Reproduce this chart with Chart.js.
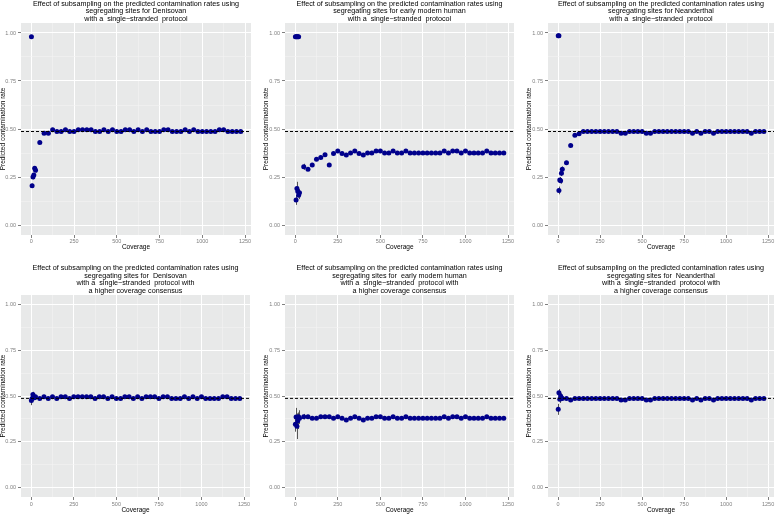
<!DOCTYPE html>
<html lang="en">
<head>
<meta charset="UTF-8">
<title>Effect of subsampling on the predicted contamination rates</title>
<script src="https://cdn.jsdelivr.net/npm/chart.js"></script>
<style>
  body { margin: 0; background: #ffffff; overflow: hidden; }
  #wrap { position: relative; width: 778px; height: 514px; }
  canvas { position: absolute; }
</style>
</head>
<body>
<div id="wrap">
  <canvas id="c0" width="260" height="257" style="left:0px;top:0px"></canvas>
  <canvas id="c1" width="260" height="257" style="left:258px;top:0px"></canvas>
  <canvas id="c2" width="260" height="257" style="left:518px;top:0px"></canvas>
  <canvas id="c3" width="260" height="257" style="left:0px;top:257px"></canvas>
  <canvas id="c4" width="260" height="257" style="left:258px;top:257px"></canvas>
  <canvas id="c5" width="260" height="257" style="left:518px;top:257px"></canvas>
</div>
<script>
// subsampled coverage
const coverage = [1, 5, 10, 15, 20, 25,
  50, 75, 100, 125, 150, 175, 200, 225, 250, 275, 300, 325,
  350, 375, 400, 425, 450, 475, 500, 525, 550, 575, 600, 625,
  650, 675, 700, 725, 750, 775, 800, 825, 850, 875, 900, 925,
  950, 975, 1000, 1025, 1050, 1075, 1100, 1125, 1150, 1175, 1200, 1225];

// predicted contamination rates, single-stranded protocol
const denisovanSS = [0.98, 0.205, 0.25, 0.26, 0.295, 0.285, 0.43, 0.478, 0.478,
  0.496, 0.487, 0.487, 0.496, 0.487, 0.487, 0.496, 0.496, 0.496, 0.496,
  0.487, 0.487, 0.496, 0.487, 0.496, 0.487, 0.487, 0.496, 0.496, 0.487,
  0.496, 0.487, 0.496, 0.487, 0.487, 0.487, 0.496, 0.496, 0.487, 0.487,
  0.487, 0.496, 0.487, 0.496, 0.487, 0.487, 0.487, 0.487, 0.487, 0.496,
  0.496, 0.487, 0.487, 0.487, 0.487];
const modernSS = [0.98, 0.13, 0.19, 0.175, 0.155, 0.168, 0.303, 0.29, 0.313,
  0.343, 0.352, 0.366, 0.313, 0.373, 0.386, 0.373, 0.364, 0.375, 0.386,
  0.373, 0.364, 0.375, 0.375, 0.386, 0.386, 0.375, 0.375, 0.386, 0.375,
  0.375, 0.386, 0.375, 0.375, 0.375, 0.375, 0.375, 0.375, 0.375, 0.375,
  0.386, 0.375, 0.386, 0.386, 0.375, 0.386, 0.375, 0.375, 0.375, 0.375,
  0.386, 0.375, 0.375, 0.375, 0.375];
const neanderthalSS = [0.985, 0.18, 0.235, 0.23, 0.27, 0.29, 0.324, 0.414, 0.467,
  0.475, 0.487, 0.487, 0.487, 0.487, 0.487, 0.487, 0.487, 0.487, 0.487,
  0.478, 0.478, 0.487, 0.487, 0.487, 0.487, 0.478, 0.478, 0.487, 0.487,
  0.487, 0.487, 0.487, 0.487, 0.487, 0.487, 0.487, 0.478, 0.487, 0.478,
  0.487, 0.487, 0.478, 0.487, 0.487, 0.487, 0.487, 0.487, 0.487, 0.487,
  0.487, 0.478, 0.487, 0.487, 0.487];

// predicted contamination rates, higher coverage consensus
const denisovanHC = [0.475, 0.487, 0.508, 0.495, 0.49, 0.496,
  0.487, 0.496,
  0.487, 0.496, 0.487, 0.496, 0.496, 0.487, 0.496, 0.496, 0.496, 0.496,
  0.496, 0.487, 0.496, 0.496, 0.487, 0.496, 0.487, 0.487, 0.496, 0.496,
  0.487, 0.496, 0.487, 0.496, 0.496, 0.496, 0.487, 0.496, 0.496, 0.487,
  0.487, 0.487, 0.496, 0.487, 0.496, 0.487, 0.496, 0.487, 0.487, 0.487,
  0.487, 0.496, 0.496, 0.487, 0.487, 0.487];
const modernHC = [0.345, 0.385, 0.335, 0.365, 0.387, 0.378,
  0.387, 0.387, 0.378, 0.378, 0.387, 0.387, 0.387, 0.378, 0.387, 0.378,
  0.369, 0.378, 0.387, 0.378, 0.369, 0.378, 0.378, 0.387, 0.387, 0.378,
  0.378, 0.387, 0.378, 0.378, 0.387, 0.378, 0.378, 0.378, 0.378, 0.378,
  0.378, 0.378, 0.378, 0.387, 0.378, 0.387, 0.387, 0.378, 0.387, 0.378,
  0.378, 0.378, 0.378, 0.387, 0.378, 0.378, 0.378, 0.378];
const neanderthalHC = [0.427, 0.518, 0.482, 0.50, 0.49, 0.487,
  0.487, 0.478, 0.487, 0.487, 0.487, 0.487, 0.487, 0.487, 0.487, 0.487,
  0.487, 0.487, 0.487, 0.478, 0.478, 0.487, 0.487, 0.487, 0.487, 0.478,
  0.478, 0.487, 0.487, 0.487, 0.487, 0.487, 0.487, 0.487, 0.487, 0.487,
  0.478, 0.487, 0.478, 0.487, 0.487, 0.478, 0.487, 0.487, 0.487, 0.487,
  0.487, 0.487, 0.487, 0.487, 0.478, 0.487, 0.487, 0.487];

// error half-widths for the first (low coverage) points, rest are too small to see
const denisovanSSErr = [0.005, 0.01, 0.012, 0.01, 0.012, 0.012, 0.008];
const modernSSErr = [0.005, 0.025, 0.035, 0.025, 0.02, 0.02, 0.016];
const neanderthalSSErr = [0.005, 0.02, 0.015, 0.015, 0.015, 0.015, 0.01];
const denisovanHCErr = [0.025, 0.02, 0.015, 0.015, 0.01, 0.01, 0.005];
const modernHCErr = [0.04, 0.05, 0.07, 0.045, 0.035, 0.03, 0.015];
const neanderthalHCErr = [0.03, 0.02, 0.02, 0.015, 0.01, 0.01, 0.005];

// replicates that hit the upper bound at very low coverage
const modernSSTopX = [5, 10, 15, 20];
const modernSSTopY = [0.98, 0.98, 0.98, 0.98];
const neanderthalSSTopX = [5];
const neanderthalSSTopY = [0.985];

const refLine = 0.487;
const xTicks = [0, 125, 250, 375, 500, 625, 750, 875, 1000, 1125, 1250];
const yTicks = [0, 0.125, 0.25, 0.375, 0.5, 0.625, 0.75, 0.875, 1];
const xMin = -60, xMax = 1285;
const yMin = -0.052, yMax = 1.052;

const firstLine = "Effect of subsampling on the predicted contamination rates using";
const panels = [
  { title: [firstLine, "segregating sites for Denisovan", "with a  single\u2212stranded  protocol"],
    values: denisovanSS, err: denisovanSSErr, topX: [], topY: [] },
  { title: [firstLine, "segregating sites for early modern human", "with a  single\u2212stranded  protocol"],
    values: modernSS, err: modernSSErr, topX: modernSSTopX, topY: modernSSTopY },
  { title: [firstLine, "segregating sites for Neanderthal", "with a  single\u2212stranded  protocol"],
    values: neanderthalSS, err: neanderthalSSErr, topX: neanderthalSSTopX, topY: neanderthalSSTopY },
  { title: [firstLine, "segregating sites for  Denisovan", "with a  single\u2212stranded  protocol with", "a higher coverage consensus"],
    values: denisovanHC, err: denisovanHCErr, topX: [], topY: [] },
  { title: [firstLine, "segregating sites for  early modern human", "with a  single\u2212stranded  protocol with", "a higher coverage consensus"],
    values: modernHC, err: modernHCErr, topX: [], topY: [] },
  { title: [firstLine, "segregating sites for  Neanderthal", "with a  single\u2212stranded  protocol with", "a higher coverage consensus"],
    values: neanderthalHC, err: neanderthalHCErr, topX: [], topY: [] }
];

// panel geometry per column / row
const plotLeft = [21, 27, 30];
const padRight = [[9, 3, 0], [10, 3, 0]];
const yTitleLeft = [0, 4.7, 8];

const FONT = "'Liberation Sans', Arial, Helvetica, sans-serif";
const isMajorX = v => Math.abs(v / 250 - Math.round(v / 250)) < 1e-9;
const isMajorY = v => Math.abs(v * 4 - Math.round(v * 4)) < 1e-9;

const panelBg = {
  id: 'panelBg',
  beforeDraw(chart) {
    const { ctx, chartArea: a } = chart;
    ctx.save();
    ctx.fillStyle = '#E8E9E9';
    ctx.fillRect(a.left, a.top, a.right - a.left, a.bottom - a.top);
    ctx.restore();
  }
};

const errorBars = {
  id: 'errorBars',
  beforeDatasetsDraw(chart) {
    const { ctx, scales: { x, y } } = chart;
    ctx.save();
    ctx.strokeStyle = '#555555';
    ctx.lineWidth = 1;
    chart.data.datasets.forEach(ds => {
      if (!ds.errors) return;
      ds.data.forEach((pt, i) => {
        const e = ds.errors[i];
        if (!e) return;
        const px = Math.round(x.getPixelForValue(pt.x)) + 0.5;
        ctx.beginPath();
        ctx.moveTo(px, y.getPixelForValue(pt.y - e));
        ctx.lineTo(px, y.getPixelForValue(pt.y + e));
        ctx.stroke();
      });
    });
    ctx.restore();
  }
};

panels.forEach((p, k) => {
  const row = k < 3 ? 0 : 1;
  const col = k % 3;
  const padLeft = yTitleLeft[col];

  new Chart(document.getElementById('c' + k), {
    type: 'scatter',
    data: {
      datasets: [
        {
          data: coverage.map((c, i) => ({ x: c, y: p.values[i] })),
          errors: p.err,
          backgroundColor: '#00008B',
          borderColor: '#00008B',
          borderWidth: 0,
          pointRadius: 2.5,
          order: 2
        },
        {
          data: p.topX.map((c, i) => ({ x: c, y: p.topY[i] })),
          backgroundColor: '#00008B',
          borderColor: '#00008B',
          borderWidth: 0,
          pointRadius: 2.5,
          order: 2
        },
        {
          type: 'line',
          data: [{ x: xMin, y: refLine }, { x: xMax, y: refLine }],
          showLine: true,
          borderColor: '#000000',
          borderWidth: 1,
          borderDash: [3, 2],
          pointRadius: 0,
          order: 1
        }
      ]
    },
    options: {
      responsive: false,
      animation: false,
      events: [],
      layout: { padding: { left: padLeft, right: padRight[row][col], top: row ? 7.5 : 0, bottom: 0 } },
      plugins: {
        legend: { display: false },
        tooltip: { enabled: false },
        title: {
          display: true,
          text: p.title,
          fullSize: false,
          color: '#000000',
          font: { family: FONT, size: 7.2, weight: 'normal', lineHeight: 1.042 },
          padding: { top: 0, bottom: 0.5 }
        }
      },
      scales: {
        x: {
          type: 'linear',
          min: xMin,
          max: xMax,
          afterBuildTicks: s => { s.ticks = xTicks.map(v => ({ value: v })); },
          afterFit: s => { s.height = row ? 17 : 22; },
          border: { display: false },
          grid: {
            color: c => isMajorX(c.tick.value) ? '#FFFFFF' : '#F3F3F3',
            lineWidth: c => isMajorX(c.tick.value) ? 1 : 0.6,
            tickColor: c => isMajorX(c.tick.value) ? '#7F7F7F' : 'rgba(0,0,0,0)',
            tickLength: 3
          },
          ticks: {
            autoSkip: false,
            maxRotation: 0,
            padding: row ? 1.5 : 0,
            color: '#7F7F7F',
            font: { family: FONT, size: 5.5 },
            callback: v => isMajorX(v) ? String(v) : ''
          },
          title: {
            display: true,
            text: 'Coverage',
            color: '#000000',
            font: { family: FONT, size: 6.5, lineHeight: 1.1 },
            padding: { top: 0, bottom: row ? 0 : 6.4 }
          }
        },
        y: {
          type: 'linear',
          min: yMin,
          max: yMax,
          afterBuildTicks: s => { s.ticks = yTicks.map(v => ({ value: v })); },
          afterFit: s => { s.width = plotLeft[col] - padLeft; },
          border: { display: false },
          grid: {
            color: c => isMajorY(c.tick.value) ? '#FFFFFF' : '#F3F3F3',
            lineWidth: c => isMajorY(c.tick.value) ? 1 : 0.6,
            tickColor: c => isMajorY(c.tick.value) ? '#7F7F7F' : 'rgba(0,0,0,0)',
            tickLength: 3
          },
          ticks: {
            autoSkip: false,
            padding: 2,
            color: '#7F7F7F',
            font: { family: FONT, size: 5.5 },
            callback: v => isMajorY(v) ? v.toFixed(2) : ''
          },
          title: {
            display: true,
            text: 'Predicted contamination rate',
            color: '#000000',
            font: { family: FONT, size: 6.5, lineHeight: 1.1 },
            padding: { top: 0, bottom: 0 }
          }
        }
      }
    },
    plugins: [panelBg, errorBars]
  });
});
</script>
</body>
</html>
